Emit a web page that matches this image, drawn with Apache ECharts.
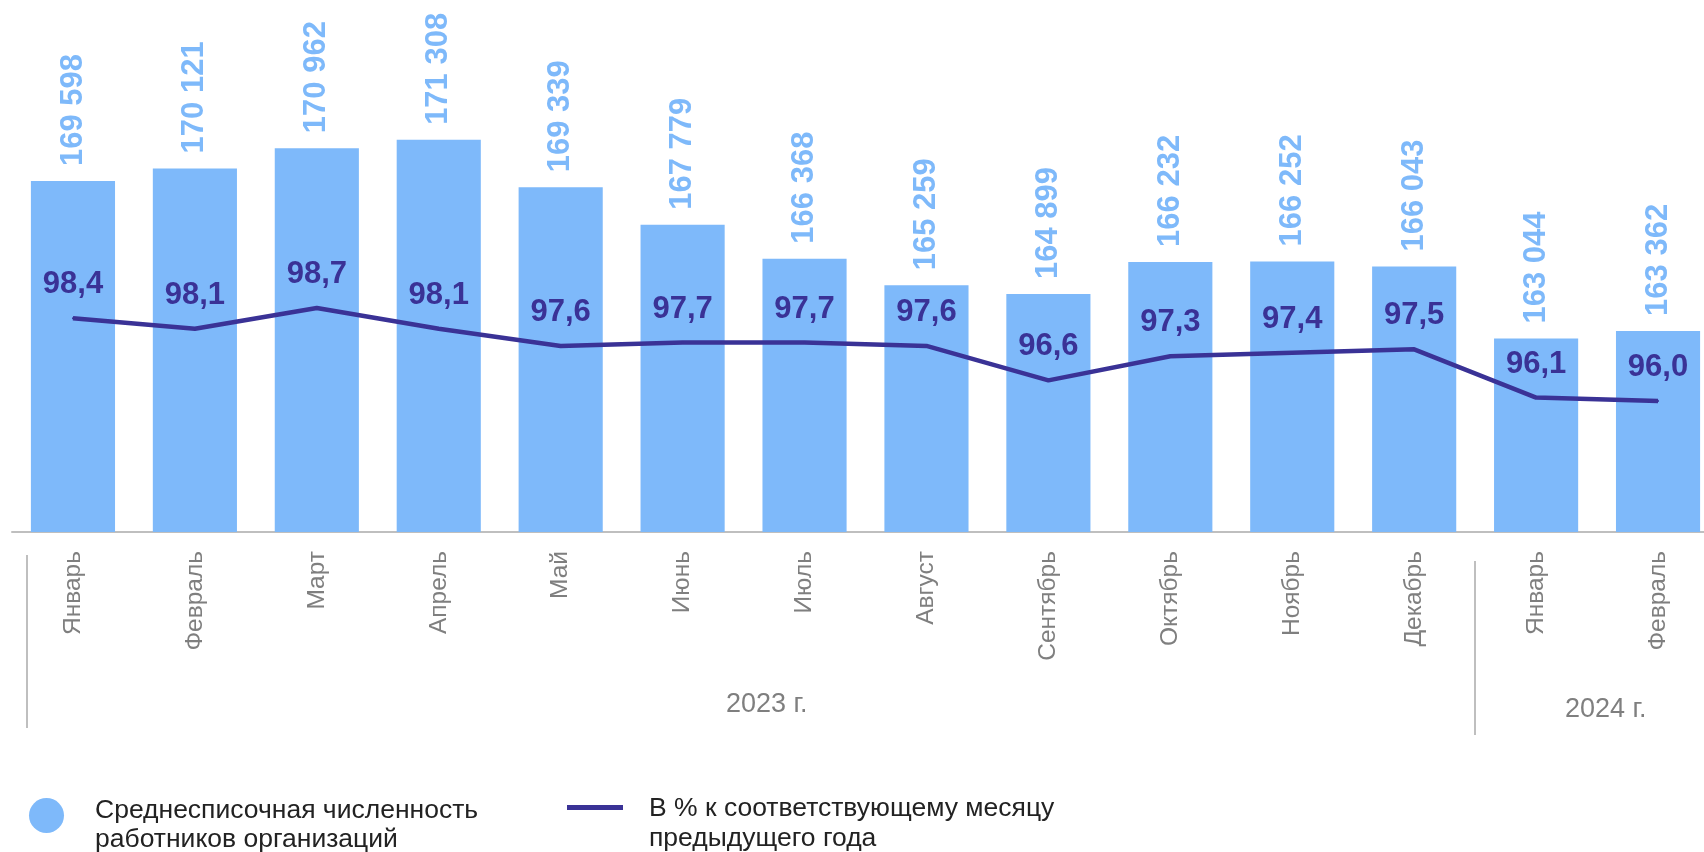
<!DOCTYPE html>
<html>
<head>
<meta charset="utf-8">
<script src="https://cdn.jsdelivr.net/npm/echarts@6/dist/echarts.min.js"></script>
<style>
html,body{margin:0;padding:0;background:#fff;}
#chart{width:1704px;height:852px;}
</style>
</head>
<body>
<div id="chart"></div>
<script>
var months = ['Январь','Февраль','Март','Апрель','Май','Июнь','Июль','Август','Сентябрь','Октябрь','Ноябрь','Декабрь','Январь','Февраль'];
var workers = [169598,170121,170962,171308,169339,167779,166368,165259,164899,166232,166252,166043,163044,163362];
var percents = [98.4,98.1,98.7,98.1,97.6,97.7,97.7,97.6,96.6,97.3,97.4,97.5,96.1,96.0];
var years = ['2023 г.','2024 г.'];
var legendLines1 = ['Среднесписочная численность','работников организаций'];
var legendLines2 = ['В % к соответствующему месяцу','предыдущего года'];
var seriesNames = [legendLines1.join(' '), legendLines2.join(' ')];

var FONT = 'Liberation Sans, Arial, sans-serif';
var BAR = '#7EB9FA';
var LINE = '#3A3296';

function fmtThousands(v){
  return String(v).replace(/\B(?=(\d{3})+(?!\d))/g, ' ');
}

var chart = echarts.init(document.getElementById('chart'));
chart.setOption({
  animation:false,
  backgroundColor:'#fff',
  textStyle:{fontFamily:FONT},
  grid:{left:12,right:-15,top:3,bottom:320,containLabel:false,outerBoundsMode:'none'},
  xAxis:{
    type:'category',
    data:months,
    boundaryGap:true,
    axisLine:{show:true,lineStyle:{color:'#BFBFBF',width:2}},
    axisTick:{show:false},
    axisLabel:{rotate:90,fontSize:24.5,color:'#7F7F7F',margin:19,fontFamily:FONT,interval:0}
  },
  yAxis:[
    {type:'value',min:155000,max:177000,show:false,splitLine:{show:false}},
    {type:'value',min:92.2,max:107.55,show:false,splitLine:{show:false}}
  ],
  legend:[
    {
      data:[{name:seriesNames[0],icon:'circle'}],
      left:29,top:786,padding:0,
      itemWidth:35,itemHeight:35,
      formatter:function(){return '{s| }\n{t|'+legendLines1[0]+'}\n{t|'+legendLines1[1]+'}';},
      textStyle:{fontFamily:FONT,padding:[0,0,0,26],
        rich:{s:{fontSize:1,lineHeight:20},t:{fontSize:26.5,lineHeight:29,color:'#222',fontFamily:FONT}}}
    },
    {
      data:[{name:seriesNames[1],icon:'rect'}],
      left:567,top:777,padding:0,
      itemWidth:56,itemHeight:5,
      formatter:function(){return '{s| }\n{t|'+legendLines2[0]+'}\n{t|'+legendLines2[1]+'}';},
      textStyle:{fontFamily:FONT,padding:[0,0,0,21],
        rich:{s:{fontSize:1,lineHeight:33},t:{fontSize:26.5,lineHeight:30,color:'#222',fontFamily:FONT}}}
    }
  ],
  series:[
    {
      name:seriesNames[0],
      type:'bar',
      yAxisIndex:0,
      data:workers,
      barCategoryGap:'31%',
      itemStyle:{color:BAR},
      label:{
        show:true,position:'top',rotate:90,align:'left',verticalAlign:'middle',distance:15,
        fontSize:31,fontWeight:'bold',color:BAR,fontFamily:FONT,
        formatter:function(p){return fmtThousands(p.value);}
      }
    },
    {
      name:seriesNames[1],
      type:'line',
      yAxisIndex:1,
      data:percents,
      symbol:'circle',symbolSize:2,showSymbol:true,
      itemStyle:{color:LINE},
      lineStyle:{color:LINE,width:4.5},
      label:{
        show:true,position:'top',distance:17,
        fontSize:31,fontWeight:'bold',color:LINE,fontFamily:FONT,
        formatter:function(p){return p.value.toFixed(1).replace('.',',');}
      },
      z:5
    }
  ],
  graphic:[
    {type:'line',shape:{x1:27,y1:555,x2:27,y2:728},style:{stroke:'#BFBFBF',lineWidth:2},silent:true},
    {type:'line',shape:{x1:1475,y1:561,x2:1475,y2:735},style:{stroke:'#BFBFBF',lineWidth:2},silent:true},
    {type:'text',x:726,y:705,style:{text:years[0],fontSize:27,fill:'#7F7F7F',fontFamily:FONT,align:'left',verticalAlign:'middle'}},
    {type:'text',x:1565,y:710,style:{text:years[1],fontSize:27,fill:'#7F7F7F',fontFamily:FONT,align:'left',verticalAlign:'middle'}}
  ]
});
</script>
</body>
</html>
